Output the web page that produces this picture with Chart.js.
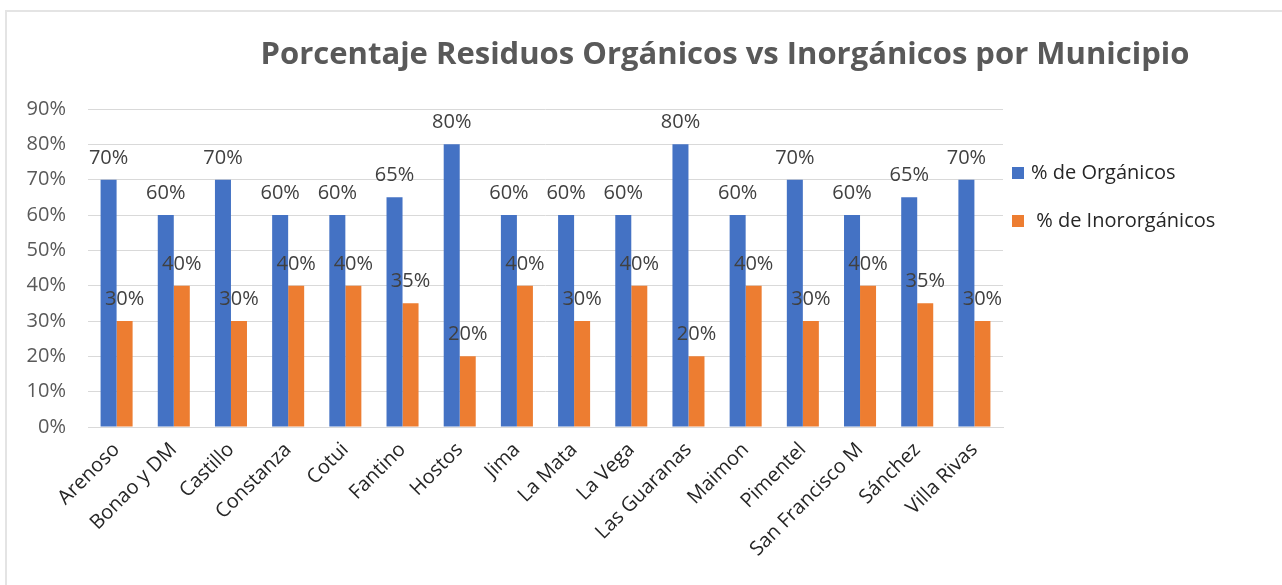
<!DOCTYPE html>
<html>
<head>
<meta charset="utf-8">
<script src="https://cdn.jsdelivr.net/npm/chart.js@4"></script>
<style>
  body { margin: 0; background: #fff; }
  #wrap { position: relative; width: 1282px; height: 585px; overflow: hidden; }
  #frame { position: absolute; left: 5px; top: 10px; width: 1300px; height: 600px;
           border-left: 2px solid #e4e4e4; border-top: 2px solid #e4e4e4; }
  canvas { position: absolute; left: 0; top: 0; }
</style>
</head>
<body>
<div id="wrap">
  <div id="frame"></div>
  <canvas id="chart" width="1282" height="585"></canvas>
</div>
<script>
const municipios = ['Arenoso', 'Bonao y DM', 'Castillo', 'Constanza', 'Cotui', 'Fantino', 'Hostos', 'Jima',
    'La Mata', 'La Vega', 'Las Guaranas', 'Maimon', 'Pimentel', 'San Francisco M', 'Sánchez', 'Villa Rivas'];
const organicos = [70, 60, 70, 60, 60, 65, 80, 60, 60, 60, 80, 60, 70, 60, 65, 70];
const inorganicos = [30, 40, 30, 40, 40, 35, 20, 40, 30, 40, 20, 40, 30, 40, 35, 30];
const yTicks = [0, 10, 20, 30, 40, 50, 60, 70, 80, 90];

const chartTitle = 'Porcentaje Residuos Orgánicos vs Inorgánicos por Municipio';
const FONT = "'Open Sans', sans-serif";

// value labels above every bar
const valueLabels = {
    id: 'valueLabels',
    afterDatasetsDraw(chart) {
        const ctx = chart.ctx;
        ctx.save();
        ctx.font = '20px ' + FONT;
        ctx.fillStyle = '#404040';
        ctx.textAlign = 'center';
        ctx.textBaseline = 'alphabetic';
        chart.data.datasets.forEach((ds, i) => {
            chart.getDatasetMeta(i).data.forEach((bar, j) => {
                ctx.fillText(ds.data[j] + '%', bar.x, bar.y - 16);
            });
        });
        ctx.restore();
    }
};

// title and legend, placed like the original Excel chart
const titleAndLegend = {
    id: 'titleAndLegend',
    afterDraw(chart) {
        const ctx = chart.ctx;
        const area = chart.chartArea;
        ctx.save();
        ctx.font = 'bold 31px ' + FONT;
        ctx.fillStyle = '#595959';
        ctx.textAlign = 'center';
        ctx.textBaseline = 'alphabetic';
        ctx.fillText(chartTitle, 725, 64);

        ctx.font = '20px ' + FONT;
        ctx.textAlign = 'left';
        ctx.textBaseline = 'middle';
        chart.data.datasets.forEach((ds, i) => {
            const x = area.right + 9;
            const y = 173 + i * 48;
            ctx.fillStyle = ds.backgroundColor;
            ctx.fillRect(x, y - 6, 12, 12);
            ctx.fillStyle = '#262626';
            ctx.fillText(ds.label, x + 19, y);
        });
        ctx.restore();
    }
};

function draw() {
    new Chart(document.getElementById('chart'), {
        type: 'bar',
        data: {
            labels: municipios,
            datasets: [
                { label: '% de Orgánicos', data: organicos, backgroundColor: '#4472C4' },
                { label: ' % de Inororgánicos', data: inorganicos, backgroundColor: '#ED7D31' }
            ]
        },
        options: {
            responsive: false,
            animation: false,
            layout: { padding: { top: 109, right: 279, bottom: 0, left: 0 } },
            datasets: { bar: { barPercentage: 1, categoryPercentage: 0.56 } },
            plugins: {
                legend: { display: false },
                title: { display: false },
                tooltip: { enabled: false }
            },
            scales: {
                x: {
                    grid: { display: false },
                    border: { color: '#d9d9d9', width: 1 },
                    ticks: {
                        font: { family: FONT, size: 20 },
                        color: '#262626',
                        minRotation: 45, maxRotation: 45,
                        padding: 3,
                        autoSkip: false
                    },
                    afterFit: (s) => { s.height = 158; }
                },
                y: {
                    min: 0, max: 90,
                    grid: { color: '#d9d9d9', drawTicks: false },
                    border: { display: false },
                    afterBuildTicks: (s) => { s.ticks = yTicks.map(v => ({ value: v })); },
                    ticks: {
                        font: { family: FONT, size: 20 },
                        color: '#595959',
                        padding: 22,
                        callback: (v) => v + '%'
                    },
                    afterFit: (s) => { s.width = 88; }
                }
            }
        },
        plugins: [valueLabels, titleAndLegend]
    });
}

Promise.all([
    document.fonts.load('20px "Open Sans"'),
    document.fonts.load('bold 31px "Open Sans"')
]).then(draw, draw);
</script>
</body>
</html>
